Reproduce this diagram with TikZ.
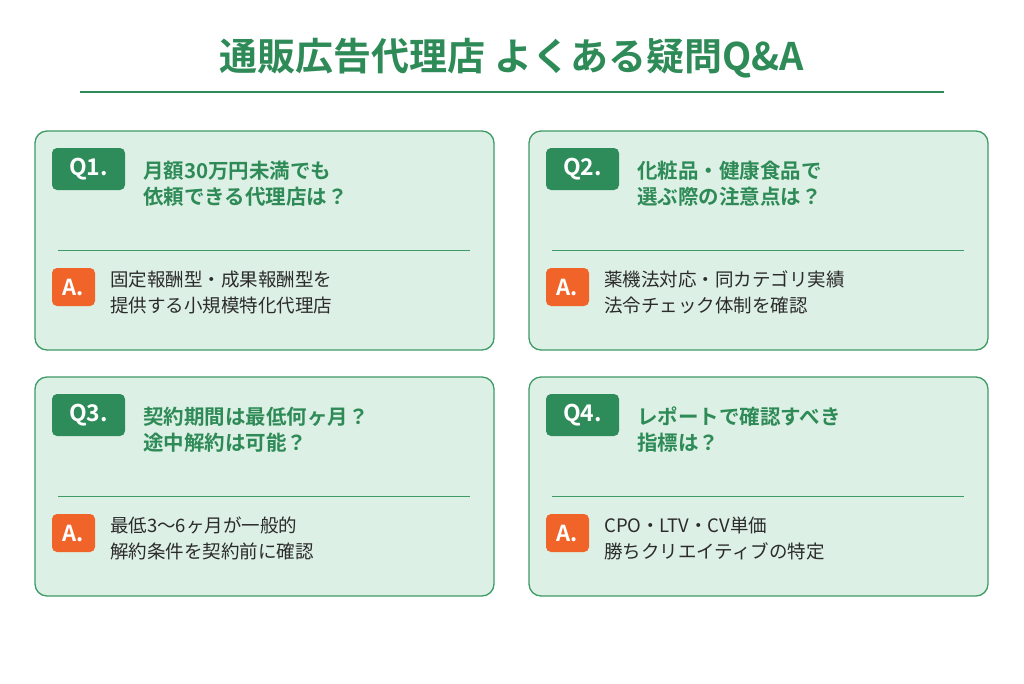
\documentclass[tikz,border=0pt]{standalone}
\usepackage{fontspec}
\newfontfamily\jp{Noto Sans CJK JP}[BoldFont={Noto Sans CJK JP Bold}]
\newfontfamily\jpb{Noto Sans CJK JP Bold}
\definecolor{gtitle}{HTML}{2E8B57}
\definecolor{gcard}{HTML}{DDF0E5}
\definecolor{gborder}{HTML}{3E9B66}
\definecolor{gbadge}{HTML}{2E8B5A}
\definecolor{obadge}{HTML}{F0642A}
\definecolor{txt}{HTML}{2B2B2B}
\tikzset{
 card/.style={draw=gborder,line width=1.3pt,fill=gcard,rounded corners=12pt},
 qbadge/.style={fill=gbadge,rounded corners=5pt,text=white,font=\jpb\fontsize{23}{23}\selectfont,minimum width=73pt,minimum height=42pt,inner sep=0pt},
 abadge/.style={fill=obadge,rounded corners=5pt,text=white,font=\jpb\fontsize{22}{22}\selectfont,minimum width=43pt,minimum height=38pt,inner sep=0pt},
 qtext/.style={anchor=west,align=left,text=gtitle,font=\jpb\fontsize{20.5}{26}\selectfont,inner sep=0pt},
 atext/.style={anchor=west,align=left,text=txt,font=\jp\fontsize{18.5}{26}\selectfont,inner sep=0pt},
 sep/.style={draw=gborder,line width=0.8pt}
}
\begin{document}
\begin{tikzpicture}[x=1pt,y=-1pt]
\useasboundingbox (0,0) rectangle (1024,683);
\fill[white] (0,0) rectangle (1024,683);
\node[text=gtitle,font=\jpb\fontsize{38}{38}\selectfont] (title) at (512,58) {通販広告代理店 よくある疑問Q\&A};
\draw[gtitle,line width=1.2pt] (80,92) coordinate (tl) -- (944,92) coordinate (tr);
\foreach \n/\x/\y/\q/\a in {
 1/35/131/{月額30万円未満でも\\依頼できる代理店は？}/{固定報酬型・成果報酬型を\\提供する小規模特化代理店},
 2/529/131/{化粧品・健康食品で\\選ぶ際の注意点は？}/{薬機法対応・同カテゴリ実績\\法令チェック体制を確認},
 3/35/377/{契約期間は最低何ヶ月？\\途中解約は可能？}/{最低3〜6ヶ月が一般的\\解約条件を契約前に確認},
 4/529/377/{レポートで確認すべき\\指標は？}/{CPO・LTV・CV単価\\勝ちクリエイティブの特定}} {
 \draw[card] (\x,\y) rectangle ++(459,219);
 \node[qbadge] (q\n) at (\x+53.5,\y+38) {\raisebox{-4pt}{Q\n.}};
 \node[qtext] (qt\n) at (\x+108,\y+53) {\q};
 \draw[sep] (\x+23,\y+119) -- (\x+435,\y+119);
 \node[abadge] (a\n) at (\x+38.5,\y+156) {\raisebox{-4pt}{A.}};
 \node[atext] (at\n) at (\x+75,\y+161) {\a};
}
\end{tikzpicture}
\end{document}
